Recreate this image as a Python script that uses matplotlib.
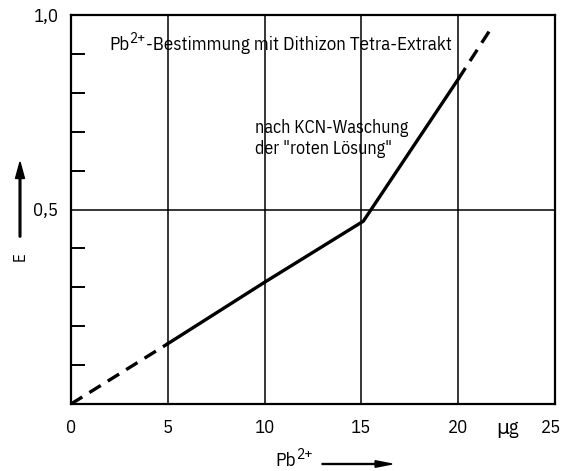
import matplotlib
matplotlib.use("Agg")
import matplotlib.pyplot as plt
import matplotlib.transforms as mtransforms
from matplotlib import font_manager

fams = set(f.name for f in font_manager.fontManager.ttflist)
FONT = 'IBM Plex Sans Condensed' if 'IBM Plex Sans Condensed' in fams else 'DejaVu Sans'
plt.rcParams['font.family'] = [FONT, 'DejaVu Sans']

# data
x_dash_lo = [0, 5]
y_dash_lo = [0, 0.155]
x_solid = [5, 10, 15.1, 20]
y_solid = [0.155, 0.313, 0.47, 0.835]
x_dash_hi = [20, 21.6]
y_dash_hi = [0.835, 0.958]
x_ticks = [0, 5, 10, 15, 20, 25]
x_ticklabels = ['0', '5', '10', '15', '20', '25']
y_ticks = [0.5, 1.0]
y_ticklabels = ['0,5', '1,0']
y_minor = [0.1, 0.2, 0.3, 0.4, 0.6, 0.7, 0.8, 0.9]

W, H = 563, 471
fig = plt.figure(figsize=(W / 100, H / 100), dpi=100)
ax = fig.add_axes([71 / W, 1 - 404 / H, (555 - 71) / W, (404 - 15) / H])
ax.set_xlim(0, 25)
ax.set_ylim(0, 1.0)

for xv in [5, 10, 15, 20]:
    ax.axvline(xv, color='black', lw=1.1, zorder=1)
ax.axhline(0.5, color='black', lw=1.1, zorder=1)

ax.plot(x_dash_lo, y_dash_lo, color='black', lw=2.4, ls=(0, (4, 2.5)), zorder=3)
ax.plot(x_solid, y_solid, color='black', lw=2.4, zorder=3, solid_joinstyle='miter')
ax.plot(x_dash_hi, y_dash_hi, color='black', lw=2.4, ls=(0, (4, 2.5)), zorder=3)

for s in ax.spines.values():
    s.set_linewidth(1.6)

ax.set_xticks(x_ticks)
ax.set_xticklabels(x_ticklabels, fontsize=13.5)
ax.set_yticks(y_ticks)
ax.set_yticklabels(y_ticklabels, fontsize=13.5)
ax.set_yticks(y_minor, minor=True)
ax.tick_params(axis='x', length=0, pad=11)
ax.tick_params(axis='y', which='major', length=0, pad=9)
ax.tick_params(axis='y', which='minor', direction='in', length=10, width=1.4)

last = ax.get_xticklabels()[-1]
last.set_transform(last.get_transform() + mtransforms.ScaledTranslation(-4 / 100, 0, fig.dpi_scale_trans))


def sup_text(x, y, base, sup, rest, size, transform):
    t1 = ax.text(x, y, base, fontsize=size, va='bottom', ha='left', transform=transform, clip_on=False)
    t2 = ax.annotate(sup, xy=(1.0, 0.42), xycoords=t1, fontsize=size * 0.8,
                     va='bottom', ha='left', annotation_clip=False)
    if rest:
        ax.annotate(rest, xy=(1.0, 0.0), xycoords=(t2, t1), fontsize=size,
                    va='bottom', ha='left', annotation_clip=False)
    return t1


sup_text(1.97, 0.9, 'Pb', '2+', '-Bestimmung mit Dithizon Tetra-Extrakt', 13.6, ax.transData)
ax.text(9.5, 0.71, 'nach KCN-Waschung', fontsize=13, va='center', ha='left')
ax.text(9.5, 0.655, 'der "roten Lösung"', fontsize=13, va='center', ha='left')

fig.text(507 / W, 1 - 428 / H, 'μg', fontsize=14.5, ha='center', va='center')
sup_text(275 / W, 1 - 470 / H, 'Pb', '2+', '', 13.8, fig.transFigure)
fig.text(20 / W, 1 - 257 / H, 'E', fontsize=12, rotation=90, ha='center', va='center')

fig.patches.append(matplotlib.patches.FancyArrow(322 / W, 1 - 464 / H, 70 / W, 0, width=0.002, head_width=0.014,
                                                 head_length=0.03, length_includes_head=True, color='black',
                                                 transform=fig.transFigure))
fig.patches.append(matplotlib.patches.FancyArrow(20 / W, 1 - 237 / H, 0, 75 / H, width=0.003, head_width=0.016,
                                                 head_length=0.035, length_includes_head=True, color='black',
                                                 transform=fig.transFigure))

fig.savefig('out.png', dpi=100)
